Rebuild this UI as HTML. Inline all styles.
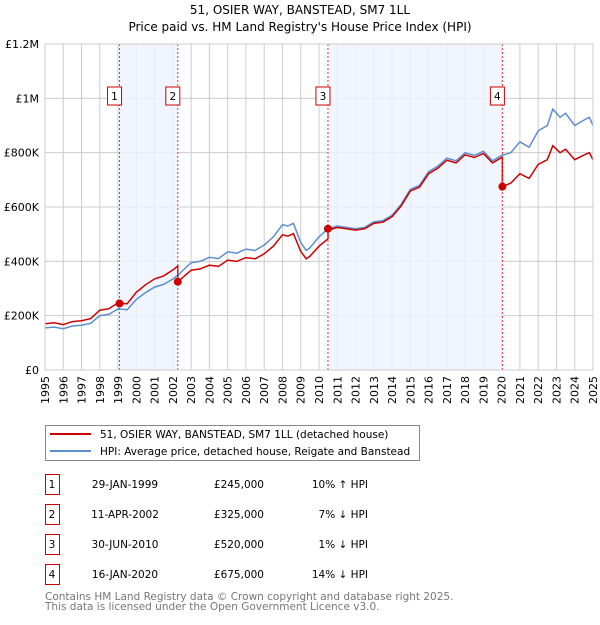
<!DOCTYPE html>
<html><head><meta charset="utf-8"><style>
body{margin:0;background:#fff;font-family:"Liberation Sans","DejaVu Sans",sans-serif;}
svg text{font-family:"DejaVu Sans","Liberation Sans",sans-serif;}
</style></head><body>
<svg id="c" width="600" height="620" xmlns="http://www.w3.org/2000/svg">
<text x="300" y="14" text-anchor="middle" font-size="12">51, OSIER WAY, BANSTEAD, SM7 1LL</text>
<text x="300" y="31" text-anchor="middle" font-size="12">Price paid vs. HM Land Registry's House Price Index (HPI)</text>
<g id="grid"></g><g id="shade"></g><g id="series"></g><g id="marks"></g><g id="axes"></g>
<g>
<rect x="45.5" y="425.5" width="374" height="35" fill="#fff" stroke="#888"/>
<line x1="50" y1="434" x2="91" y2="434" stroke="#cc0000" stroke-width="2"/>
<text x="100" y="438" font-size="10.5">51, OSIER WAY, BANSTEAD, SM7 1LL (detached house)</text>
<line x1="50" y1="451" x2="91" y2="451" stroke="#5b8fd0" stroke-width="2"/>
<text x="100" y="455" font-size="10.5">HPI: Average price, detached house, Reigate and Banstead</text>
</g>
<g id="table" font-size="10.5"></g>
<text x="45" y="600" font-size="10.5" fill="#777">Contains HM Land Registry data © Crown copyright and database right 2025.</text>
<text x="45" y="610" font-size="10.5" fill="#777">This data is licensed under the Open Government Licence v3.0.</text>
</svg>
<script>
const hpiYears=[1995,1995.5,1996,1996.5,1997,1997.5,1998,1998.5,1999,1999.5,2000,2000.5,2001,2001.5,2002,2002.3,2002.6,2003,2003.5,2004,2004.5,2005,2005.5,2006,2006.5,2007,2007.5,2008,2008.3,2008.6,2009,2009.3,2009.5,2010,2010.5,2011,2011.5,2012,2012.5,2013,2013.5,2014,2014.5,2015,2015.5,2016,2016.5,2017,2017.5,2018,2018.5,2019,2019.5,2020,2020.5,2021,2021.5,2022,2022.5,2022.8,2023.2,2023.5,2024,2024.5,2024.8,2025];
const hpiValues=[155,158,152,162,165,172,200,205,225,222,260,285,305,315,335,350,370,395,400,415,410,435,430,445,440,460,490,535,530,540,470,440,450,490,520,530,525,520,525,545,550,570,610,665,680,730,750,780,770,800,790,805,770,790,800,840,820,880,900,960,930,945,900,920,930,900];
const saleLabels=["1","2","3","4"];
const saleDates=[1999.08,2002.27,2010.49,2020.04];
const salePrices=[245,325,520,675];
const saleDateText=["29-JAN-1999","11-APR-2002","30-JUN-2010","16-JAN-2020"];
const salePriceText=["£245,000","£325,000","£520,000","£675,000"];
const saleHpiText=["10% ↑ HPI","7% ↓ HPI","1% ↓ HPI","14% ↓ HPI"];
const segmentRatios=[1.10,1.10,0.93,0.99,0.86];
const yTicks=[0,200,400,600,800,1000,1200];
const yTickLabels=["£0","£200K","£400K","£600K","£800K","£1M","£1.2M"];
const xTicks=[];for(let y=1995;y<=2025;y++)xTicks.push(y);

const X0=45,X1=593,Y0=370,Y1=44;
const xs=v=>X0+(v-1995)/30*(X1-X0);
const ys=v=>Y0-v/1200*(Y0-Y1);
const NS="http://www.w3.org/2000/svg";
function mk(tag,attrs,parent){const e=document.createElementNS(NS,tag);for(const k in attrs)e.setAttribute(k,attrs[k]);document.getElementById(parent).appendChild(e);return e;}
// grid
xTicks.forEach(t=>{const l=mk('line',{x1:xs(t),x2:xs(t),y1:Y1,y2:Y0,stroke:'#ccc'},'grid');


const tx=mk('text',{x:0,y:0,'font-size':11,'text-anchor':'end',transform:`translate(${xs(t)+4},${Y0+6}) rotate(-90)`},'axes');tx.textContent=t;

});
yTicks.forEach((t,i)=>{const l=mk('line',{x1:X0,x2:X1,y1:ys(t),y2:ys(t),stroke:'#ccc'},'grid');


const tx=mk('text',{x:X0-6,y:ys(t)+4,'font-size':11,'text-anchor':'end'},'axes');tx.textContent=yTickLabels[i];

});
// shading
[[0,1],[2,3]].forEach(p=>{const r=mk('rect',{x:xs(saleDates[p[0]]),y:Y1,width:xs(saleDates[p[1]])-xs(saleDates[p[0]]),height:Y0-Y1,fill:'#eef2fc',opacity:0.8},'shade');

});
// hpi line
const hp=hpiYears.map((y,i)=>`${xs(y).toFixed(1)},${ys(hpiValues[i]).toFixed(1)}`).join(' ');
const hl=mk('polyline',{points:hp,fill:'none',stroke:'#5b8fd0','stroke-width':1.5},'series');


// red line
function hpiAt(y){for(let i=1;i<hpiYears.length;i++){if(y<=hpiYears[i]){const f=(y-hpiYears[i-1])/(hpiYears[i]-hpiYears[i-1]);return hpiValues[i-1]+f*(hpiValues[i]-hpiValues[i-1]);}}return hpiValues[hpiValues.length-1];}
const pts=[];
hpiYears.forEach((y,i)=>{let s=0;while(s<saleDates.length&&y>=saleDates[s])s++;
 if(pts.length){const prevY=pts[pts.length-1][0];saleDates.forEach((d,k)=>{if(d>prevY&&d<=y){pts.push([d,hpiAt(d)*segmentRatios[k]]);pts.push([d,salePrices[k]]);}});}
 pts.push([y,hpiValues[i]*segmentRatios[s]]);});
const rl=mk('polyline',{points:pts.map(p=>`${xs(p[0]).toFixed(1)},${ys(p[1]).toFixed(1)}`).join(' '),fill:'none',stroke:'#cc0000','stroke-width':1.5},'series');


// sale markers
saleDates.forEach((d,i)=>{const l=mk('line',{x1:xs(d),x2:xs(d),y1:Y1,y2:Y0,stroke:'#e33','stroke-dasharray':'2,2','stroke-width':1},'marks');


const c=mk('circle',{cx:xs(d),cy:ys(salePrices[i]),r:4,fill:'#cc0000'},'marks');


const b=mk('rect',{x:xs(d)-12,y:87,width:14,height:18,fill:'#fff',stroke:'#cc0000'},'marks');


const t=mk('text',{x:xs(d)-5,y:100,'font-size':10.5,'text-anchor':'middle'},'marks');t.textContent=saleLabels[i];


// table row
const ry=483+i*30;
const tb=mk('rect',{x:45.5,y:ry-8.5,width:14,height:20,fill:'#fff',stroke:'#cc0000'},'table');


const cells=[[52,saleLabels[i],'middle'],[125,saleDateText[i],'middle'],[264,salePriceText[i],'end'],[368,saleHpiText[i],'end']];
cells.forEach(c2=>{const tt=mk('text',{x:c2[0],y:ry+5,'text-anchor':c2[2]},'table');tt.textContent=c2[1];

});});
const fr=mk('rect',{x:X0,y:Y1,width:X1-X0,height:Y0-Y1,fill:'none',stroke:'#ccc'},'axes');


</script>
</body></html>
